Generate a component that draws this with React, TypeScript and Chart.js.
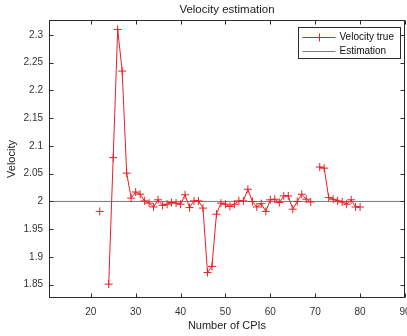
import React, { useEffect, useRef } from 'react';
import { Chart, registerables } from 'chart.js';

Chart.register(...registerables);

// ---- data ----
const cpis = [
  22, 23, 24, 25, 26, 27, 28, 29, 30, 31, 32, 33, 34, 35, 36, 37, 38, 39, 40,
  41, 42, 43, 44, 45, 46, 47, 48, 49, 50, 51, 52, 53, 54, 55, 56, 57, 58, 59,
  60, 61, 62, 63, 64, 65, 66, 67, 68, 69, 70, 71, 72, 73, 74, 75, 76, 77, 78,
  79, 80,
];
const velocityTrue: (number | null)[] = [
  1.982, null, 1.851, 2.079, 2.31, 2.235, 2.051, 2.006, 2.017, 2.013, 2.001,
  1.997, 1.99, 2.003, 1.993, 1.995, 1.998, 1.997, 1.995, 2.012, 1.989, 2.001,
  2.001, 1.988, 1.872, 1.883, 1.977, 1.997, 1.995, 1.991, 1.995, 2.001, 2.001,
  2.022, 2.0, 1.99, 1.996, 1.982, 2.003, 2.004, 1.998, 2.01, 2.01, 1.986, 2.0,
  2.013, 2.004, 1.999, null, 2.062, 2.06, 2.007, 2.004, 2.001, 1.999, 1.995,
  2.003, 1.99, 1.99,
];
const estimationValue = 2;
const xTicks = [20, 30, 40, 50, 60, 70, 80, 90];
const yTicks = [1.85, 1.9, 1.95, 2, 2.05, 2.1, 2.15, 2.2, 2.25, 2.3];
const xLimits = [10.7, 90];
const yLimits = [1.826, 2.327];

const titleText = 'Velocity estimation';
const xLabel = 'Number of CPIs';
const yLabel = 'Velocity';
const seriesNames = ['Velocity true', 'Estimation'];

const RED = 'rgb(236,30,36)';
const GRAY = '#7a7a7a';
const AXIS = '#2b2b2b';
const FONT = "'Liberation Sans', Arial, Helvetica, sans-serif";

const fmt = (v: number) => String(Number(Number(v).toFixed(2)));

const matlabAxes = {
  id: 'matlabAxes',
  afterDraw(chart: any) {
    const { ctx, chartArea: a, scales } = chart;
    ctx.save();
    const L = Math.round(a.left) + 0.5;
    const R = Math.round(a.right) - 0.5;
    const T = Math.round(a.top) + 0.5;
    const B = Math.round(a.bottom) - 0.5;
    ctx.strokeStyle = AXIS;
    ctx.lineWidth = 1;
    ctx.strokeRect(L, T, R - L, B - T);
    const tl = 4;
    ctx.beginPath();
    xTicks.forEach((v) => {
      const px = Math.round(scales.x.getPixelForValue(v)) + 0.5;
      ctx.moveTo(px, B);
      ctx.lineTo(px, B - tl);
      ctx.moveTo(px, T);
      ctx.lineTo(px, T + tl);
    });
    yTicks.forEach((v) => {
      const py = Math.round(scales.y.getPixelForValue(v)) + 0.5;
      ctx.moveTo(L, py);
      ctx.lineTo(L + tl, py);
      ctx.moveTo(R, py);
      ctx.lineTo(R - tl, py);
    });
    ctx.stroke();

    // title
    ctx.fillStyle = '#1a1a1a';
    ctx.font = `11.5px ${FONT}`;
    ctx.textAlign = 'center';
    ctx.textBaseline = 'middle';
    ctx.fillText(titleText, (a.left + a.right) / 2, 10);

    // legend
    const ds = chart.data.datasets;
    const bw = 102;
    const bh = 31;
    const bx = Math.round(a.right - 5 - bw) + 0.5;
    const by = Math.round(a.top + 7) + 0.5;
    ctx.fillStyle = '#ffffff';
    ctx.fillRect(bx, by, bw, bh);
    ctx.strokeStyle = AXIS;
    ctx.strokeRect(bx, by, bw, bh);
    ctx.font = `10px ${FONT}`;
    ctx.textAlign = 'left';
    ds.forEach((d: any, i: number) => {
      const ry = Math.round(by + 9 + i * 14.5) + 0.5;
      const x0 = bx + 4;
      const x1 = bx + 37;
      ctx.strokeStyle = d.borderColor;
      ctx.lineWidth = 1;
      ctx.beginPath();
      ctx.moveTo(x0, ry);
      ctx.lineTo(x1, ry);
      if (d.pointRadius > 0) {
        const mx = Math.round((x0 + x1) / 2) + 0.5;
        ctx.moveTo(mx, ry - 4);
        ctx.lineTo(mx, ry + 4);
      }
      ctx.stroke();
      ctx.fillStyle = '#111';
      ctx.fillText(d.label, bx + 41, ry);
    });
    ctx.restore();
  },
};

export default function App() {
  const ref = useRef<HTMLCanvasElement | null>(null);

  useEffect(() => {
    if (!ref.current) return;
    const chart = new Chart(ref.current, {
      type: 'line',
      data: {
        datasets: [
          {
            label: seriesNames[0],
            data: cpis.map((c, i) => ({ x: c, y: velocityTrue[i] })) as any,
            borderColor: RED,
            backgroundColor: RED,
            borderWidth: 1,
            pointStyle: 'cross',
            pointRadius: 4,
            pointBorderWidth: 1,
            pointBorderColor: RED,
            spanGaps: false,
            tension: 0,
          },
          {
            label: seriesNames[1],
            data: xLimits.map((x) => ({ x, y: estimationValue })),
            borderColor: GRAY,
            backgroundColor: GRAY,
            borderWidth: 1,
            pointRadius: 0,
            tension: 0,
          },
        ],
      },
      plugins: [matlabAxes],
      options: {
        responsive: false,
        animation: false,
        events: [],
        layout: {
          autoPadding: false,
          padding: { top: 20, right: 2, bottom: 0, left: 0 },
        } as any,
        plugins: {
          legend: { display: false },
          title: { display: false },
          tooltip: { enabled: false },
        },
        scales: {
          x: {
            type: 'linear',
            min: xLimits[0],
            max: xLimits[1],
            grid: { display: false, drawTicks: false },
            border: { display: false },
            afterBuildTicks: (s: any) => {
              s.ticks = xTicks.map((v) => ({ value: v }));
            },
            afterFit: (s: any) => {
              s.height = 38;
              s.paddingLeft = 0;
              s.paddingRight = 0;
            },
            ticks: {
              padding: 8,
              maxRotation: 0,
              autoSkip: false,
              color: '#333',
              font: { family: FONT, size: 10 },
              callback: (v: any) => fmt(v),
            },
            title: {
              display: true,
              text: xLabel,
              color: '#222',
              font: { family: FONT, size: 11 },
              padding: { top: 0, bottom: 3 },
            },
          },
          y: {
            type: 'linear',
            min: yLimits[0],
            max: yLimits[1],
            grid: { display: false, drawTicks: false },
            border: { display: false },
            afterBuildTicks: (s: any) => {
              s.ticks = yTicks.map((v) => ({ value: v }));
            },
            afterFit: (s: any) => {
              s.width = 49;
              s.paddingTop = 0;
              s.paddingBottom = 0;
            },
            ticks: {
              padding: 6,
              autoSkip: false,
              color: '#333',
              font: { family: FONT, size: 10 },
              callback: (v: any) => fmt(v),
            },
            title: {
              display: true,
              text: yLabel,
              color: '#222',
              font: { family: FONT, size: 11 },
              padding: { top: 5, bottom: 0 },
            },
          },
        },
      } as any,
    });
    return () => chart.destroy();
  }, []);

  return (
    <div style={{ position: 'absolute', left: 0, top: 0, width: 407, height: 336, background: '#fff' }}>
      <canvas ref={ref} width={407} height={336} style={{ display: 'block' }} />
    </div>
  );
}
